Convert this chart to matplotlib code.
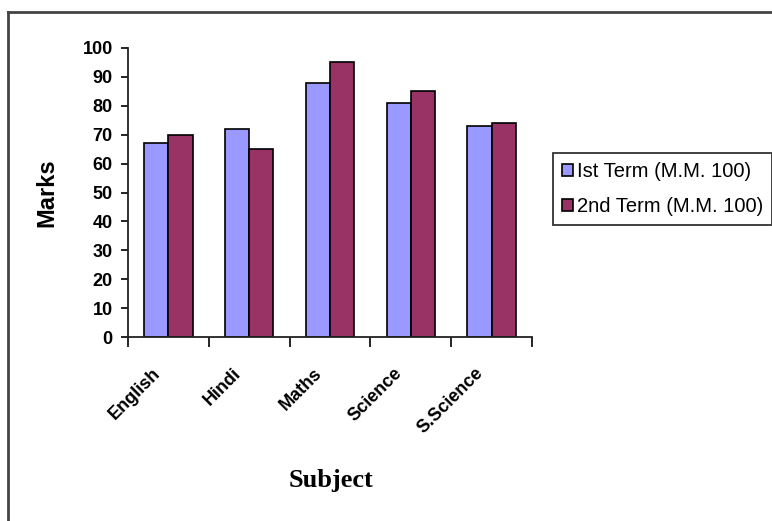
import matplotlib
matplotlib.use("Agg")
import matplotlib.pyplot as plt
import matplotlib.transforms as mtransforms
import numpy as np
from matplotlib.lines import Line2D

subjects = ["English", "Hindi", "Maths", "Science", "S.Science"]
term1 = [67, 72, 88, 81, 73]
term2 = [70, 65, 95, 85, 74]
series_names = ["Ist Term (M.M. 100)", "2nd Term (M.M. 100)"]
y_ticks = list(range(0, 101, 10))

W, H = 772, 521
fig = plt.figure(figsize=(W / 100, H / 100), dpi=100)
fig.patch.set_facecolor("white")

ax = fig.add_axes([128 / W, 1 - 337 / H, (532 - 128) / W, (337 - 48) / H])
x = np.arange(len(subjects))
bw = 0.3
b1 = ax.bar(x - bw / 2, term1, bw, color="#9999FF", edgecolor="black", linewidth=1.2, label=series_names[0])
b2 = ax.bar(x + bw / 2, term2, bw, color="#993366", edgecolor="black", linewidth=1.2, label=series_names[1])

ax.set_xlim(-0.5, len(subjects) - 0.5)
ax.set_ylim(0, 100)
ax.set_yticks(y_ticks)
ax.set_yticklabels([str(t) for t in y_ticks], fontfamily="Liberation Sans", fontweight="bold", fontsize=13)
ax.tick_params(axis="y", direction="out", length=5, width=1.2, pad=6)

ax.set_xticks(x)
ax.set_xticklabels(subjects, rotation=45, ha="right", va="top", fontfamily="Liberation Sans",
                   fontweight="bold", fontsize=13)
ax.tick_params(axis="x", which="major", length=0, pad=20)
offset = mtransforms.ScaledTranslation(-5 / 100, 0, fig.dpi_scale_trans)
for lab in ax.get_xticklabels():
    lab.set_transform(lab.get_transform() + offset)
ax.set_xticks(np.arange(-0.5, len(subjects), 1.0), minor=True)
ax.tick_params(axis="x", which="minor", direction="out", length=7, width=1.2)

for s in ["top", "right"]:
    ax.spines[s].set_visible(False)
for s in ["left", "bottom"]:
    ax.spines[s].set_linewidth(1.3)
    ax.spines[s].set_color("#222222")

ax.set_ylabel("Marks", fontfamily="Liberation Sans", fontweight="bold", fontsize=17)
ax.yaxis.set_label_coords(-(128 - 58) / (532 - 128), 0.5)
fig.text(331 / W, 1 - 481 / H, "Subject", fontfamily="Liberation Serif", fontweight="bold",
         fontsize=19, ha="center", va="center")

leg = fig.legend(handles=[b1, b2], labels=series_names, loc="upper left",
                 bbox_to_anchor=(553 / W, 1 - 153 / H), frameon=True, fancybox=False,
                 prop={"family": "Liberation Sans", "size": 14.5},
                 handlelength=0.55, handleheight=0.55, handletextpad=0.2,
                 labelspacing=0.8, borderpad=0.45, borderaxespad=0)
leg.get_frame().set_edgecolor("black")
leg.get_frame().set_linewidth(1.3)

# outer chart-area frame
fig.add_artist(Line2D([8 / W, 1], [1 - 12 / H, 1 - 12 / H], transform=fig.transFigure, color="#444444", lw=2))
fig.add_artist(Line2D([8 / W, 8 / W], [0, 1 - 12 / H], transform=fig.transFigure, color="#444444", lw=2))

fig.savefig("out.png", dpi=100)
